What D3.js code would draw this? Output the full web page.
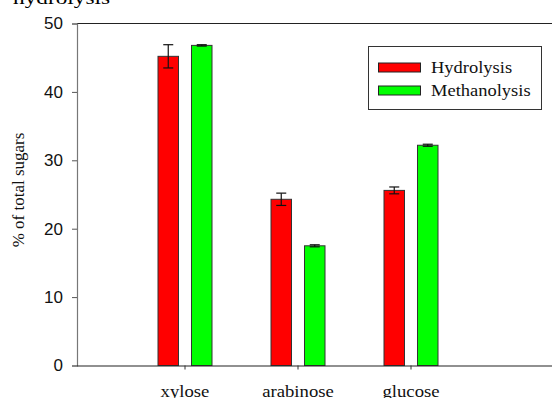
<!DOCTYPE html>
<html>
<head>
<meta charset="utf-8">
<script src="https://cdn.jsdelivr.net/npm/d3@7"></script>
<style>
  html, body { margin: 0; padding: 0; background: #fff; }
  svg { display: block; }
</style>
</head>
<body>
<svg id="chart" width="552" height="398"></svg>
<script>
// Sugar composition by analysis method
const categories = ["xylose", "arabinose", "glucose"];
const seriesNames = ["Hydrolysis", "Methanolysis"];
const hydrolysis = [45.2, 24.3, 25.6];
const hydrolysisErr = [1.7, 0.9, 0.5];
const methanolysis = [46.8, 17.5, 32.2];
const methanolysisErr = [0.1, 0.15, 0.15];
const yTicks = [0, 10, 20, 30, 40, 50];
const colors = ["#ff0000", "#00ff00"];

const series = [
  { name: seriesNames[0], values: hydrolysis, errors: hydrolysisErr, color: colors[0] },
  { name: seriesNames[1], values: methanolysis, errors: methanolysisErr, color: colors[1] }
];

const serif = "Liberation Serif, Times New Roman, serif";
const svg = d3.select("#chart");
const plotLeft = 77, plotRight = 560, plotTop = 23.5, plotBottom = 365.5;

const y = d3.scaleLinear().domain([0, 50]).range([plotBottom, plotTop]);
const x = d3.scaleBand().domain(categories).range([128.5, 467.5]).padding(0);
const xs = d3.scaleBand().domain(seriesNames).range([-27, 27]).paddingInner(0.388).paddingOuter(0);

// widen serif labels slightly, keeping their glyph height
function widen(sel, k) {
  sel.each(function () {
    const w = this.getComputedTextLength();
    d3.select(this).attr("textLength", w * k).attr("lengthAdjust", "spacingAndGlyphs");
  });
}

// caption running off the top edge
svg.append("text")
  .attr("x", 13).attr("y", 4)
  .attr("font-family", serif)
  .attr("font-size", 19)
  .attr("textLength", 97).attr("lengthAdjust", "spacingAndGlyphs")
  .attr("fill", "#000")
  .text("hydrolysis");

// frame: top line
svg.append("line")
  .attr("x1", plotLeft).attr("x2", plotRight)
  .attr("y1", plotTop).attr("y2", plotTop)
  .attr("stroke", "#222").attr("stroke-width", 1);

// bars
const groups = svg.append("g").selectAll("g")
  .data(series).join("g");

groups.selectAll("rect")
  .data(s => s.values.map((v, i) => ({ cat: categories[i], v, e: s.errors[i], s })))
  .join("rect")
  .attr("x", d => x(d.cat) + x.bandwidth() / 2 + xs(d.s.name))
  .attr("width", xs.bandwidth())
  .attr("y", d => y(d.v))
  .attr("height", d => y(0) - y(d.v))
  .attr("fill", d => d.s.color)
  .attr("stroke", "#333")
  .attr("stroke-width", 1);

// error bars
const errG = svg.append("g").attr("stroke", "#111").attr("stroke-width", 1.2);
series.forEach(s => {
  s.values.forEach((v, i) => {
    const cx = x(categories[i]) + x.bandwidth() / 2 + xs(s.name) + xs.bandwidth() / 2;
    const e = s.errors[i];
    errG.append("line").attr("x1", cx).attr("x2", cx).attr("y1", y(v + e)).attr("y2", y(v - e));
    errG.append("line").attr("x1", cx - 5).attr("x2", cx + 5).attr("y1", y(v + e)).attr("y2", y(v + e));
    errG.append("line").attr("x1", cx - 5).attr("x2", cx + 5).attr("y1", y(v - e)).attr("y2", y(v - e));
  });
});

// y axis
const yAxis = svg.append("g")
  .attr("transform", `translate(${plotLeft},0)`)
  .call(d3.axisLeft(y).tickValues(yTicks).tickSize(5).tickPadding(9).tickFormat(d3.format("d")));
yAxis.select(".domain").attr("stroke", "#777").attr("stroke-width", 1.2);
yAxis.selectAll(".tick line").attr("stroke", "#555");
yAxis.selectAll(".tick text")
  .attr("font-family", "Liberation Sans, Arial, sans-serif")
  .attr("font-size", 17).attr("fill", "#111");

// x axis
const xAxis = svg.append("g")
  .attr("transform", `translate(0,${plotBottom})`)
  .call(d3.axisBottom(x).tickSize(4).tickPadding(15).tickSizeOuter(0));
xAxis.select(".domain").attr("d", `M${plotLeft},0.5H${plotRight}`).attr("stroke", "#222").attr("stroke-width", 1.2);
xAxis.selectAll(".tick line").attr("stroke", "#333");
xAxis.selectAll(".tick text")
  .attr("font-family", serif)
  .attr("font-size", 17).attr("fill", "#111")
  .attr("dy", "0")
  .attr("y", 31)
  .call(widen, 1.1);

// y axis title
svg.append("text")
  .attr("transform", "translate(24,190) rotate(-90)")
  .attr("text-anchor", "middle")
  .attr("font-family", serif)
  .attr("font-size", 17).attr("fill", "#111")
  .text("% of total sugars");

// legend
const lg = svg.append("g");
lg.append("rect")
  .attr("x", 368.5).attr("y", 46.5).attr("width", 173).attr("height", 63)
  .attr("fill", "#fff").attr("stroke", "#333").attr("stroke-width", 1);
series.forEach((s, i) => {
  const yy = 63 + i * 23;
  lg.append("rect")
    .attr("x", 378.5).attr("y", yy).attr("width", 42).attr("height", 9)
    .attr("fill", s.color).attr("stroke", "#222").attr("stroke-width", 1);
  lg.append("text")
    .attr("x", 431).attr("y", yy + 10)
    .attr("font-family", serif)
    .attr("font-size", 16.5).attr("fill", "#111")
    .text(s.name)
    .call(widen, 1.12);
});
</script>
</body>
</html>
